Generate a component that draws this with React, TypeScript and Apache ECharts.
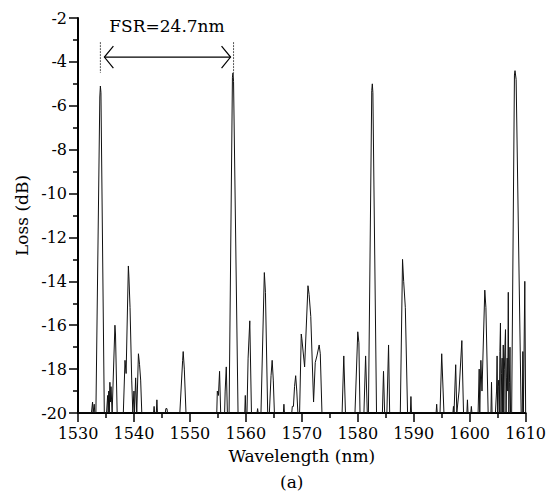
import React, { useEffect, useRef } from "react";
import * as echarts from "echarts";

// Spectrum samples [wavelength nm, loss dB], grouped by region
const band1530: [number, number][] = [
  [1530.0, -20], [1532.4, -20], [1532.6, -19.5], [1532.7, -20], [1532.9, -19.6], [1533.0, -20],
  [1533.2, -20], [1533.9, -5.6], [1534.0, -5.1], [1534.1, -5.4], [1534.7, -20],
  [1535.1, -20], [1535.3, -19.2], [1535.4, -20], [1535.5, -19.0], [1535.6, -20], [1535.7, -18.6],
  [1535.8, -19.5], [1535.9, -18.8], [1536.1, -20], [1536.6, -16.0], [1536.7, -16.4], [1537.0, -20],
  [1538.1, -20], [1538.4, -17.6], [1538.6, -18.2], [1539.0, -13.3], [1539.1, -13.8], [1539.3, -15.2],
  [1539.6, -18.5], [1539.8, -20], [1540.0, -19.0], [1540.1, -20], [1540.3, -18.4], [1540.5, -20],
  [1540.8, -17.3], [1541.0, -17.8], [1541.2, -18.5], [1541.4, -20],
];
const band1543: [number, number][] = [
  [1543.5, -20], [1543.6, -19.7], [1543.7, -20], [1544.0, -20], [1544.1, -19.4], [1544.2, -20],
  [1545.6, -20], [1545.7, -19.8], [1545.9, -19.8], [1546.0, -20],
  [1548.2, -20], [1548.7, -17.6], [1548.8, -17.2], [1549.0, -18.0], [1549.3, -20],
  [1554.8, -20], [1554.9, -19.0], [1555.1, -19.2], [1555.3, -18.1], [1555.5, -20],
  [1556.2, -20], [1556.3, -19.0], [1556.5, -17.9], [1556.7, -20],
  [1557.0, -20], [1557.6, -4.7], [1557.7, -4.5], [1557.8, -4.9], [1558.6, -20],
];
const band1559: [number, number][] = [
  [1559.8, -20], [1559.9, -19.2], [1560.0, -20], [1560.2, -20], [1560.4, -17.5], [1560.7, -15.8],
  [1561.0, -20], [1562.0, -20], [1562.1, -19.8], [1562.2, -20],
  [1562.7, -20], [1563.3, -13.6], [1563.5, -14.5], [1563.9, -20],
  [1564.2, -20], [1564.5, -18.3], [1564.7, -17.6], [1564.9, -18.5], [1565.1, -20],
  [1566.7, -20], [1566.8, -19.6], [1566.9, -20],
  [1568.2, -20], [1568.3, -19.7], [1568.5, -19.7], [1568.7, -18.8], [1568.9, -18.3], [1569.1, -19.0],
  [1569.3, -20], [1569.6, -20], [1569.9, -16.4], [1570.0, -16.6], [1570.5, -17.9], [1571.1, -14.2],
  [1571.3, -14.6], [1571.6, -15.6], [1572.1, -19.5], [1572.4, -17.7], [1572.7, -17.4], [1573.1, -16.9],
  [1573.3, -17.3], [1573.6, -20],
];
const band1577: [number, number][] = [
  [1577.2, -20], [1577.5, -17.4], [1577.8, -20],
  [1579.5, -20], [1580.0, -16.3], [1580.2, -16.8], [1580.4, -20],
  [1581.1, -20], [1581.4, -17.4], [1581.7, -20],
  [1581.9, -20], [1582.5, -5.3], [1582.6, -5.0], [1582.7, -5.4], [1583.35, -20],
  [1584.4, -20], [1584.6, -18.1], [1584.8, -20], [1585.2, -20], [1585.5, -16.9], [1585.7, -20],
  [1587.6, -20], [1588.0, -13.0], [1588.2, -14.0], [1588.5, -15.2], [1588.9, -20],
  [1589.4, -20], [1589.5, -19.25], [1589.6, -20],
];
const band1594: [number, number][] = [
  [1594.0, -20], [1594.1, -19.6], [1594.2, -20], [1594.7, -20], [1595.0, -17.3], [1595.4, -20],
  [1597.0, -20], [1597.1, -19.7], [1597.2, -20], [1597.5, -17.8], [1597.7, -20], [1598.1, -19.0],
  [1598.6, -16.7], [1598.9, -20], [1599.5, -20], [1599.6, -19.4], [1599.7, -20],
  [1600.2, -20], [1600.3, -19.7], [1600.4, -20],
  [1601.5, -20], [1601.7, -18.0], [1601.8, -20], [1602.0, -17.6], [1602.2, -19.0], [1602.7, -14.4],
  [1602.9, -15.2], [1603.3, -20], [1603.8, -20], [1603.9, -18.6], [1604.0, -20],
];
const band1604: [number, number][] = [
  [1604.6, -20], [1604.8, -19.0], [1604.9, -17.4], [1605.0, -20], [1605.1, -18.8], [1605.2, -18.5],
  [1605.3, -20], [1605.4, -17.2], [1605.5, -15.9], [1605.6, -20], [1605.7, -18.2], [1605.8, -17.5],
  [1605.9, -20], [1606.0, -16.9], [1606.1, -20], [1606.2, -18.0], [1606.3, -17.0], [1606.4, -16.2],
  [1606.5, -20], [1606.6, -18.4], [1606.7, -17.5], [1606.8, -19.0], [1606.9, -14.5], [1607.0, -20],
  [1607.1, -18.6], [1607.2, -17.0], [1607.3, -20],
  [1607.5, -20], [1608.0, -4.6], [1608.1, -4.4], [1608.3, -4.8], [1609.2, -20],
  [1609.4, -20], [1609.5, -17.2], [1609.6, -20], [1609.85, -14.0], [1610.0, -20],
];

// FSR annotation (wavelengths of the two marked peaks, loss levels of the markers)
const fsrLabel = "FSR=24.7nm";
const fsrStart = 1534.0;
const fsrEnd = 1557.8;
const fsrMarkTop = -3.1;
const fsrMarkBottom = -4.5;
const fsrArrowLevel = -3.78;
const fsrTextLevel = -2.38;

const xTicks = { min: 1530, max: 1610, interval: 10 };
const yTicks = { min: -20, max: -2, interval: 2 };

const FONT = "DejaVu Serif";

export default function App() {
  const ref = useRef<HTMLDivElement>(null);
  useEffect(() => {
    if (!ref.current) return;
    const chart = echarts.init(ref.current, null, { renderer: "svg" });
    const data = [...band1530, ...band1543, ...band1559, ...band1577, ...band1594, ...band1604];
    const axisCommon = {
      axisLine: { show: true, onZero: false, lineStyle: { color: "#000", width: 2 } },
      axisTick: { show: true, inside: false, length: 9, lineStyle: { color: "#000", width: 1.5 } },
      minorTick: { show: true, splitNumber: 2, length: 5, lineStyle: { color: "#000", width: 1.5 } },
      splitLine: { show: false },
      axisLabel: { color: "#000", fontFamily: FONT, fontSize: 16, formatter: (v: number) => String(v) },
      nameTextStyle: { color: "#000", fontFamily: FONT, fontSize: 17 },
    };
    chart.setOption({
      animation: false,
      backgroundColor: "#fff",
      textStyle: { fontFamily: FONT },
      grid: { left: 78, right: 22, top: 18, bottom: 86, containLabel: false },
      xAxis: {
        type: "value",
        ...xTicks,
        ...axisCommon,
        axisLabel: { ...axisCommon.axisLabel, margin: 12 },
        name: "Wavelength (nm)",
        nameLocation: "middle",
        nameGap: 34,
      },
      yAxis: {
        type: "value",
        ...yTicks,
        ...axisCommon,
        axisLabel: { ...axisCommon.axisLabel, margin: 11 },
        name: "Loss (dB)",
        nameLocation: "middle",
        nameGap: 46,
      },
      series: [
        {
          type: "line",
          data,
          showSymbol: false,
          symbol: "none",
          clip: true,
          lineStyle: { color: "#111", width: 1 },
        },
      ],
    });

    const p = (x: number, y: number) => chart.convertToPixel({ gridIndex: 0 }, [x, y]) as number[];
    const s1 = p(fsrStart, fsrMarkTop);
    const s2 = p(fsrStart, fsrMarkBottom);
    const e1 = p(fsrEnd, fsrMarkTop);
    const e2 = p(fsrEnd, fsrMarkBottom);
    const aL = p(fsrStart, fsrArrowLevel);
    const aR = p(fsrEnd, fsrArrowLevel);
    const t = p((fsrStart + fsrEnd) / 2, fsrTextLevel);
    const ax1 = aL[0] + 4;
    const ax2 = aR[0] - 3;
    const ay = aL[1];
    const lineStyle = { stroke: "#000", lineWidth: 1.2 };
    const dashStyle = { stroke: "#555", lineWidth: 1, lineDash: [2, 1] };
    chart.setOption({
      graphic: [
        { type: "line", shape: { x1: s1[0], y1: s1[1], x2: s2[0], y2: s2[1] }, style: dashStyle },
        { type: "line", shape: { x1: e1[0], y1: e1[1], x2: e2[0], y2: e2[1] }, style: dashStyle },
        { type: "line", shape: { x1: ax1, y1: ay, x2: ax2, y2: ay }, style: lineStyle },
        { type: "polyline", shape: { points: [[ax1 + 9, ay - 11], [ax1, ay], [ax1 + 9, ay + 11]] }, style: { ...lineStyle, fill: null } },
        { type: "polyline", shape: { points: [[ax2 - 9, ay - 11], [ax2, ay], [ax2 - 9, ay + 11]] }, style: { ...lineStyle, fill: null } },
        {
          type: "text",
          x: t[0],
          y: t[1],
          style: { text: fsrLabel, fill: "#000", font: `17px ${FONT}`, textAlign: "center", textVerticalAlign: "middle" },
        },
        {
          type: "text",
          left: 280,
          top: 473,
          style: { text: "(a)", fill: "#000", font: `17px ${FONT}` },
        },
      ],
    });
    return () => chart.dispose();
  }, []);
  return (
    <div
      ref={ref}
      style={{ position: "fixed", left: 0, top: 0, width: 549, height: 499, background: "#fff" }}
    />
  );
}
